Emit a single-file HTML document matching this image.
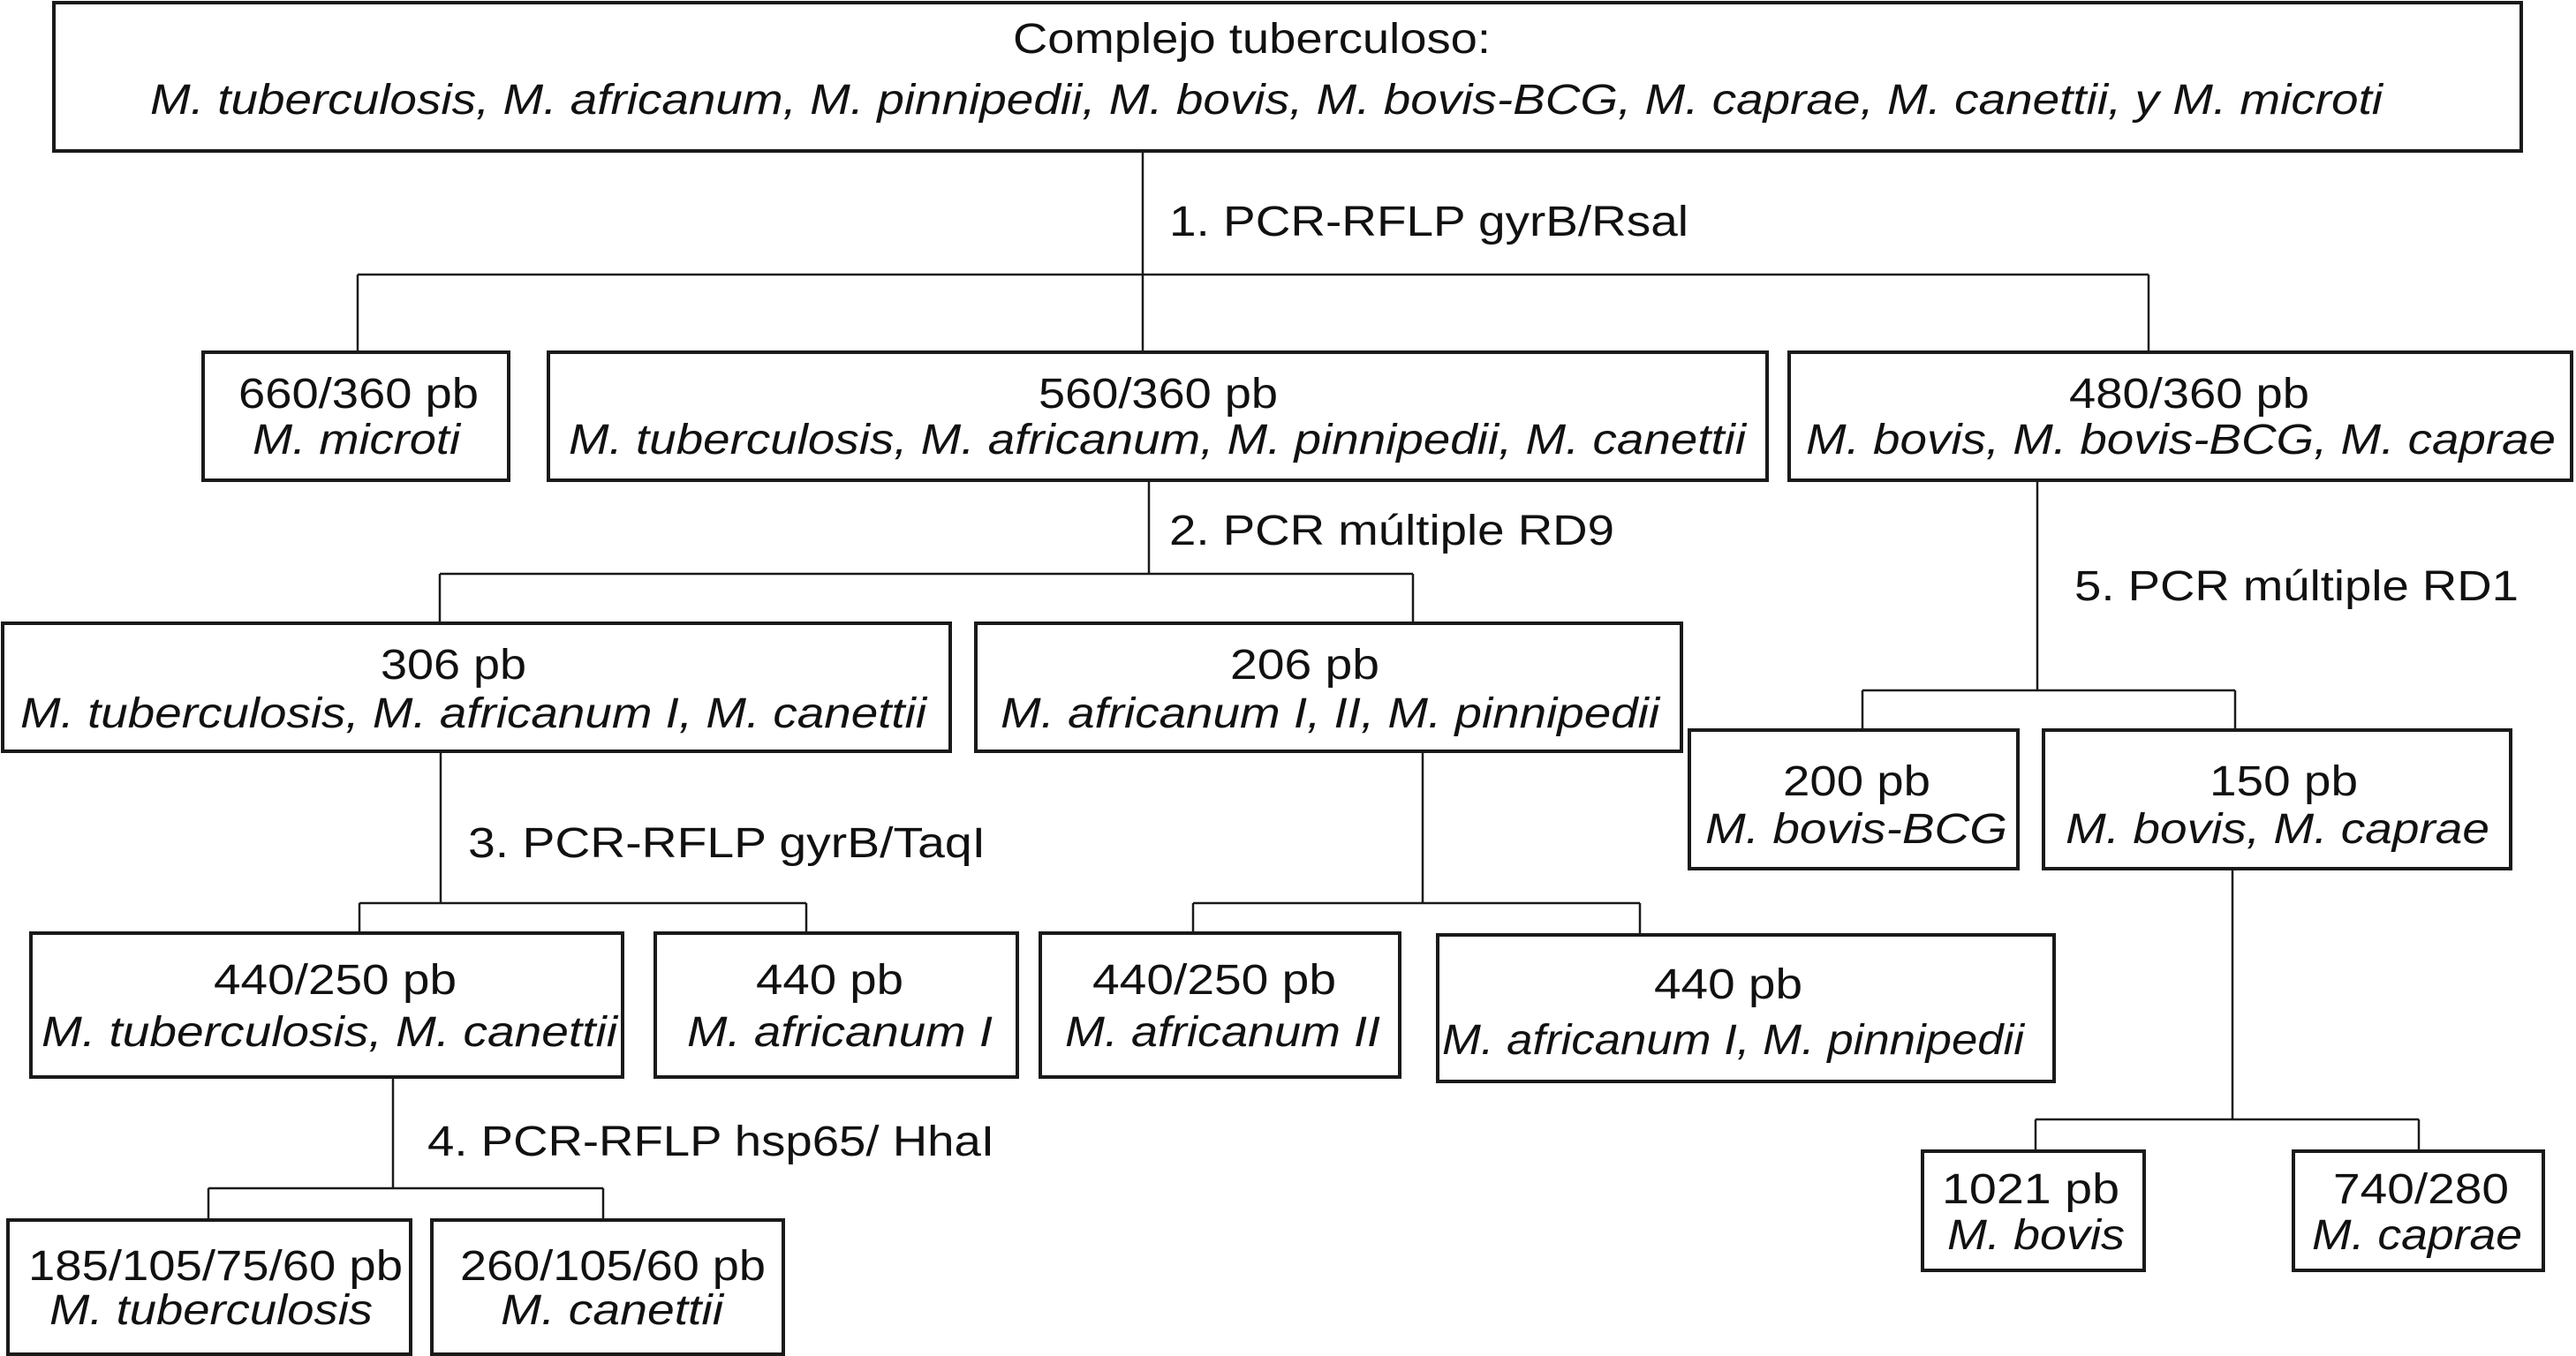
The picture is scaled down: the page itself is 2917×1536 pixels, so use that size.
<!DOCTYPE html>
<html><head><meta charset="utf-8"><style>
html,body{margin:0;padding:0;background:#fff;}
svg{display:block;}
text{font-family:"Liberation Sans",sans-serif;font-size:48px;fill:#111;}
.i{font-style:italic;}
rect{fill:none;stroke:#1a1a1a;stroke-width:4;}
line{stroke:#1a1a1a;stroke-width:2.5;}
</style></head><body>
<svg width="2917" height="1536" viewBox="0 0 2917 1536" xmlns="http://www.w3.org/2000/svg">
<!-- boxes -->
<rect x="61" y="3" width="2794" height="168"/>
<rect x="230" y="399" width="346" height="145"/>
<rect x="621" y="399" width="1380" height="145"/>
<rect x="2026" y="399" width="886" height="145"/>
<rect x="3" y="706" width="1073" height="145"/>
<rect x="1105" y="706" width="799" height="145"/>
<rect x="1913" y="827" width="372" height="157"/>
<rect x="2314" y="827" width="529" height="157"/>
<rect x="35" y="1057" width="670" height="163"/>
<rect x="742" y="1057" width="410" height="163"/>
<rect x="1178" y="1057" width="407" height="163"/>
<rect x="1628" y="1059" width="698" height="166"/>
<rect x="2177" y="1304" width="251" height="135"/>
<rect x="2597" y="1304" width="283" height="135"/>
<rect x="9" y="1382" width="456" height="152"/>
<rect x="489" y="1382" width="398" height="152"/>
<!-- connectors -->
<line x1="1294" y1="171" x2="1294" y2="399"/>
<line x1="405" y1="311" x2="2433" y2="311"/>
<line x1="405" y1="311" x2="405" y2="399"/>
<line x1="2433" y1="311" x2="2433" y2="399"/>
<line x1="1301" y1="544" x2="1301" y2="650"/>
<line x1="498" y1="650" x2="1600" y2="650"/>
<line x1="498" y1="650" x2="498" y2="706"/>
<line x1="1600" y1="650" x2="1600" y2="706"/>
<line x1="2307" y1="544" x2="2307" y2="782"/>
<line x1="2109" y1="782" x2="2531" y2="782"/>
<line x1="2109" y1="782" x2="2109" y2="827"/>
<line x1="2531" y1="782" x2="2531" y2="827"/>
<line x1="2528" y1="984" x2="2528" y2="1268"/>
<line x1="2305" y1="1268" x2="2739" y2="1268"/>
<line x1="2305" y1="1268" x2="2305" y2="1304"/>
<line x1="2739" y1="1268" x2="2739" y2="1304"/>
<line x1="499" y1="851" x2="499" y2="1023"/>
<line x1="407" y1="1023" x2="913" y2="1023"/>
<line x1="407" y1="1023" x2="407" y2="1057"/>
<line x1="913" y1="1023" x2="913" y2="1057"/>
<line x1="1611" y1="851" x2="1611" y2="1023"/>
<line x1="1351" y1="1023" x2="1857" y2="1023"/>
<line x1="1351" y1="1023" x2="1351" y2="1057"/>
<line x1="1857" y1="1023" x2="1857" y2="1059"/>
<line x1="445" y1="1220" x2="445" y2="1346"/>
<line x1="236" y1="1346" x2="683" y2="1346"/>
<line x1="236" y1="1346" x2="236" y2="1382"/>
<line x1="683" y1="1346" x2="683" y2="1382"/>
<!-- texts -->
<text x="1147" y="60" textLength="541" lengthAdjust="spacingAndGlyphs">Complejo tuberculoso:</text>
<text class="i" x="170" y="129" textLength="2528" lengthAdjust="spacingAndGlyphs">M. tuberculosis, M. africanum, M. pinnipedii, M. bovis, M. bovis-BCG, M. caprae, M. canettii, y M. microti</text>
<text x="1324" y="267" textLength="588" lengthAdjust="spacingAndGlyphs">1. PCR-RFLP gyrB/Rsal</text>

<text x="270" y="462" textLength="272" lengthAdjust="spacingAndGlyphs">660/360 pb</text>
<text class="i" x="286" y="514" textLength="235" lengthAdjust="spacingAndGlyphs">M. microti</text>
<text x="1176" y="462" textLength="271" lengthAdjust="spacingAndGlyphs">560/360 pb</text>
<text class="i" x="644" y="514" textLength="1333" lengthAdjust="spacingAndGlyphs">M. tuberculosis, M. africanum, M. pinnipedii, M. canettii</text>
<text x="2343" y="462" textLength="272" lengthAdjust="spacingAndGlyphs">480/360 pb</text>
<text class="i" x="2045" y="514" textLength="849" lengthAdjust="spacingAndGlyphs">M. bovis, M. bovis-BCG, M. caprae</text>

<text x="1324" y="617" textLength="504" lengthAdjust="spacingAndGlyphs">2. PCR múltiple RD9</text>
<text x="431" y="769" textLength="165" lengthAdjust="spacingAndGlyphs">306 pb</text>
<text class="i" x="23" y="824" textLength="1026" lengthAdjust="spacingAndGlyphs">M. tuberculosis, M. africanum I, M. canettii</text>
<text x="1393" y="769" textLength="169" lengthAdjust="spacingAndGlyphs">206 pb</text>
<text class="i" x="1133" y="824" textLength="746" lengthAdjust="spacingAndGlyphs">M. africanum I, II, M. pinnipedii</text>

<text x="2349" y="680" textLength="503" lengthAdjust="spacingAndGlyphs">5. PCR múltiple RD1</text>
<text x="2019" y="901" textLength="167" lengthAdjust="spacingAndGlyphs">200 pb</text>
<text class="i" x="1931" y="955" textLength="342" lengthAdjust="spacingAndGlyphs">M. bovis-BCG</text>
<text x="2502" y="901" textLength="168" lengthAdjust="spacingAndGlyphs">150 pb</text>
<text class="i" x="2339" y="955" textLength="480" lengthAdjust="spacingAndGlyphs">M. bovis, M. caprae</text>

<text x="530" y="971" textLength="586" lengthAdjust="spacingAndGlyphs">3. PCR-RFLP gyrB/TaqI</text>
<text x="242" y="1126" textLength="275" lengthAdjust="spacingAndGlyphs">440/250 pb</text>
<text class="i" x="47" y="1185" textLength="652" lengthAdjust="spacingAndGlyphs">M. tuberculosis, M. canettii</text>
<text x="856" y="1126" textLength="167" lengthAdjust="spacingAndGlyphs">440 pb</text>
<text class="i" x="778" y="1185" textLength="346" lengthAdjust="spacingAndGlyphs">M. africanum I</text>
<text x="1237" y="1126" textLength="276" lengthAdjust="spacingAndGlyphs">440/250 pb</text>
<text class="i" x="1206" y="1185" textLength="357" lengthAdjust="spacingAndGlyphs">M. africanum II</text>
<text x="1873" y="1131" textLength="168" lengthAdjust="spacingAndGlyphs">440 pb</text>
<text class="i" x="1633" y="1194" textLength="659" lengthAdjust="spacingAndGlyphs">M. africanum I, M. pinnipedii</text>

<text x="484" y="1309" textLength="642" lengthAdjust="spacingAndGlyphs">4. PCR-RFLP hsp65/ HhaI</text>
<text x="32" y="1450" textLength="424" lengthAdjust="spacingAndGlyphs">185/105/75/60 pb</text>
<text class="i" x="56" y="1500" textLength="366" lengthAdjust="spacingAndGlyphs">M. tuberculosis</text>
<text x="521" y="1450" textLength="346" lengthAdjust="spacingAndGlyphs">260/105/60 pb</text>
<text class="i" x="567" y="1500" textLength="252" lengthAdjust="spacingAndGlyphs">M. canettii</text>

<text x="2199" y="1363" textLength="201" lengthAdjust="spacingAndGlyphs">1021 pb</text>
<text class="i" x="2205" y="1415" textLength="201" lengthAdjust="spacingAndGlyphs">M. bovis</text>
<text x="2642" y="1363" textLength="199" lengthAdjust="spacingAndGlyphs">740/280</text>
<text class="i" x="2618" y="1415" textLength="238" lengthAdjust="spacingAndGlyphs">M. caprae</text>
</svg>
</body></html>
